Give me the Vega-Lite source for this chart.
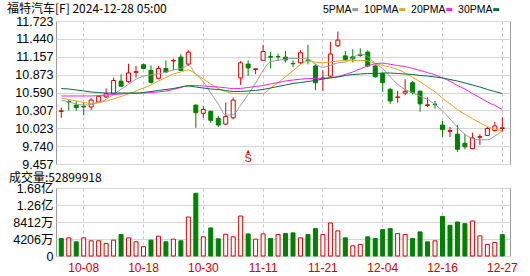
{
  "$schema": "https://vega.github.io/schema/vega-lite/v6.json",
  "background": "white",
  "padding": {"left": 5, "top": 2, "right": 0, "bottom": 0},
  "spacing": 0,
  "config": {
    "view": {"stroke": "#9a9a9a", "strokeWidth": 1},
    "title": {"fontWeight": "normal", "color": "#000"},
    "axis": {"labelFont": "Liberation Sans, Noto Sans CJK SC", "labelFontSize": 12, "labelColor": "#000", "domain": false, "ticks": false, "gridColor": "#d6d6d6", "gridWidth": 1, "title": null, "labelOverlap": false},
    "axisY": {"labelOverlap": false}
  },
  "datasets": {
    "k": [
      {"d":"10-03","o":10.29,"h":10.35,"l":10.19,"c":10.30,"v":43300000,"cd":"u","vd":"d","5PMA":10.47,"10PMA":10.503,"20PMA":10.535,"30PMA":10.653},
      {"d":"10-04","o":10.45,"h":10.47,"l":10.31,"c":10.44,"v":44900000,"cd":"d","vd":"u","5PMA":10.44,"10PMA":10.479,"20PMA":10.535,"30PMA":10.645},
      {"d":"10-07","o":10.39,"h":10.455,"l":10.30,"c":10.35,"v":35100000,"cd":"d","vd":"d","5PMA":10.41,"10PMA":10.455,"20PMA":10.535,"30PMA":10.630},
      {"d":"10-08","o":10.37,"h":10.43,"l":10.23,"c":10.36,"v":44900000,"cd":"d","vd":"u","5PMA":10.39,"10PMA":10.432,"20PMA":10.535,"30PMA":10.614},
      {"d":"10-09","o":10.36,"h":10.50,"l":10.31,"c":10.47,"v":37600000,"cd":"u","vd":"u","5PMA":10.40,"10PMA":10.416,"20PMA":10.535,"30PMA":10.598},
      {"d":"10-10","o":10.44,"h":10.54,"l":10.43,"c":10.53,"v":37600000,"cd":"u","vd":"u","5PMA":10.43,"10PMA":10.432,"20PMA":10.542,"30PMA":10.590},
      {"d":"10-11","o":10.52,"h":10.655,"l":10.50,"c":10.57,"v":31000000,"cd":"u","vd":"u","5PMA":10.48,"10PMA":10.455,"20PMA":10.550,"30PMA":10.582},
      {"d":"10-14","o":10.57,"h":10.825,"l":10.56,"c":10.78,"v":39200000,"cd":"u","vd":"u","5PMA":10.56,"10PMA":10.487,"20PMA":10.558,"30PMA":10.582},
      {"d":"10-15","o":10.77,"h":10.88,"l":10.68,"c":10.69,"v":53100000,"cd":"d","vd":"d","5PMA":10.64,"10PMA":10.527,"20PMA":10.566,"30PMA":10.582},
      {"d":"10-16","o":10.76,"h":11.045,"l":10.745,"c":10.90,"v":44900000,"cd":"u","vd":"u","5PMA":10.72,"10PMA":10.566,"20PMA":10.574,"30PMA":10.582},
      {"d":"10-17","o":10.91,"h":11.01,"l":10.825,"c":10.92,"v":35100000,"cd":"u","vd":"u","5PMA":10.80,"10PMA":10.614,"20PMA":10.574,"30PMA":10.582},
      {"d":"10-18","o":11.03,"h":11.05,"l":10.96,"c":10.97,"v":22900000,"cd":"d","vd":"u","5PMA":10.85,"10PMA":10.661,"20PMA":10.582,"30PMA":10.590},
      {"d":"10-21","o":10.94,"h":11.02,"l":10.73,"c":10.75,"v":39200000,"cd":"d","vd":"d","5PMA":10.87,"10PMA":10.709,"20PMA":10.590,"30PMA":10.606},
      {"d":"10-22","o":10.815,"h":11.01,"l":10.80,"c":10.97,"v":49000000,"cd":"u","vd":"u","5PMA":10.89,"10PMA":10.772,"20PMA":10.598,"30PMA":10.622},
      {"d":"10-23","o":10.97,"h":11.10,"l":10.905,"c":10.915,"v":35100000,"cd":"d","vd":"d","5PMA":10.91,"10PMA":10.828,"20PMA":10.614,"30PMA":10.638},
      {"d":"10-24","o":11.09,"h":11.125,"l":10.94,"c":11.10,"v":41700000,"cd":"u","vd":"u","5PMA":10.95,"10PMA":10.883,"20PMA":10.638,"30PMA":10.653},
      {"d":"10-25","o":11.15,"h":11.195,"l":10.93,"c":10.94,"v":37600000,"cd":"d","vd":"d","5PMA":10.97,"10PMA":10.915,"20PMA":10.669,"30PMA":10.677},
      {"d":"10-28","o":11.04,"h":11.26,"l":11.01,"c":11.23,"v":96400000,"cd":"u","vd":"u","5PMA":11.02,"10PMA":10.947,"20PMA":10.701,"30PMA":10.693},
      {"d":"10-29","o":10.39,"h":10.40,"l":10.03,"c":10.27,"v":155200000,"cd":"d","vd":"d","5PMA":10.88,"10PMA":10.883,"20PMA":10.701,"30PMA":10.677},
      {"d":"10-30","o":10.26,"h":10.375,"l":10.19,"c":10.32,"v":47400000,"cd":"u","vd":"u","5PMA":10.76,"10PMA":10.804,"20PMA":10.693,"30PMA":10.661},
      {"d":"10-31","o":10.29,"h":10.305,"l":10.11,"c":10.15,"v":69400000,"cd":"d","vd":"d","5PMA":10.58,"10PMA":10.725,"20PMA":10.685,"30PMA":10.645},
      {"d":"11-01","o":10.18,"h":10.22,"l":10.045,"c":10.075,"v":42500000,"cd":"d","vd":"d","5PMA":10.41,"10PMA":10.653,"20PMA":10.677,"30PMA":10.638},
      {"d":"11-04","o":10.09,"h":10.43,"l":10.075,"c":10.21,"v":53900000,"cd":"u","vd":"u","5PMA":10.23,"10PMA":10.606,"20PMA":10.665,"30PMA":10.622},
      {"d":"11-05","o":10.19,"h":10.51,"l":10.165,"c":10.47,"v":47400000,"cd":"u","vd":"u","5PMA":10.24,"10PMA":10.574,"20PMA":10.650,"30PMA":10.606},
      {"d":"11-06","o":10.82,"h":11.09,"l":10.71,"c":11.06,"v":98800000,"cd":"u","vd":"u","5PMA":10.39,"10PMA":10.570,"20PMA":10.655,"30PMA":10.606},
      {"d":"11-07","o":11.04,"h":11.10,"l":10.85,"c":10.98,"v":54700000,"cd":"d","vd":"d","5PMA":10.56,"10PMA":10.572,"20PMA":10.669,"30PMA":10.614},
      {"d":"11-08","o":10.955,"h":10.97,"l":10.88,"c":10.965,"v":41700000,"cd":"u","vd":"u","5PMA":10.74,"10PMA":10.575,"20PMA":10.685,"30PMA":10.622},
      {"d":"11-11","o":11.10,"h":11.345,"l":11.09,"c":11.24,"v":54700000,"cd":"u","vd":"u","5PMA":10.94,"10PMA":10.574,"20PMA":10.701,"30PMA":10.638},
      {"d":"11-12","o":11.16,"h":11.235,"l":10.975,"c":11.15,"v":43300000,"cd":"d","vd":"d","5PMA":11.08,"10PMA":10.661,"20PMA":10.725,"30PMA":10.661},
      {"d":"11-13","o":11.16,"h":11.205,"l":11.09,"c":11.155,"v":53100000,"cd":"d","vd":"u","5PMA":11.10,"10PMA":10.745,"20PMA":10.748,"30PMA":10.685},
      {"d":"11-14","o":11.15,"h":11.25,"l":11.065,"c":11.105,"v":55500000,"cd":"d","vd":"d","5PMA":11.12,"10PMA":10.840,"20PMA":10.772,"30PMA":10.709},
      {"d":"11-15","o":11.05,"h":11.10,"l":10.99,"c":11.045,"v":57200000,"cd":"d","vd":"d","5PMA":11.13,"10PMA":10.935,"20PMA":10.788,"30PMA":10.733},
      {"d":"11-18","o":11.06,"h":11.26,"l":11.045,"c":11.22,"v":44900000,"cd":"u","vd":"u","5PMA":11.13,"10PMA":11.03,"20PMA":10.800,"30PMA":10.748},
      {"d":"11-19","o":11.105,"h":11.345,"l":11.035,"c":11.10,"v":53100000,"cd":"d","vd":"d","5PMA":11.12,"10PMA":11.09,"20PMA":10.810,"30PMA":10.764},
      {"d":"11-20","o":11.01,"h":11.045,"l":10.625,"c":10.745,"v":67800000,"cd":"d","vd":"d","5PMA":11.04,"10PMA":11.07,"20PMA":10.815,"30PMA":10.780},
      {"d":"11-21","o":10.81,"h":10.94,"l":10.615,"c":10.82,"v":53100000,"cd":"u","vd":"u","5PMA":10.99,"10PMA":11.06,"20PMA":10.815,"30PMA":10.804},
      {"d":"11-22","o":10.85,"h":11.395,"l":10.825,"c":11.20,"v":81700000,"cd":"u","vd":"u","5PMA":11.02,"10PMA":11.075,"20PMA":10.828,"30PMA":10.820},
      {"d":"11-25","o":11.33,"h":11.555,"l":11.31,"c":11.42,"v":62100000,"cd":"u","vd":"u","5PMA":11.06,"10PMA":11.09,"20PMA":10.840,"30PMA":10.836},
      {"d":"11-26","o":11.17,"h":11.25,"l":11.09,"c":11.115,"v":44900000,"cd":"d","vd":"d","5PMA":11.07,"10PMA":11.095,"20PMA":10.878,"30PMA":10.859},
      {"d":"11-27","o":11.155,"h":11.275,"l":11.065,"c":11.125,"v":25300000,"cd":"d","vd":"u","5PMA":11.14,"10PMA":11.095,"20PMA":10.915,"30PMA":10.875},
      {"d":"11-29","o":11.185,"h":11.29,"l":11.155,"c":11.18,"v":28600000,"cd":"d","vd":"u","5PMA":11.20,"10PMA":11.10,"20PMA":10.965,"30PMA":10.883},
      {"d":"12-02","o":11.23,"h":11.26,"l":10.995,"c":11.01,"v":47400000,"cd":"d","vd":"d","5PMA":11.16,"10PMA":11.09,"20PMA":11.012,"30PMA":10.891},
      {"d":"12-03","o":11.01,"h":11.035,"l":10.825,"c":10.84,"v":43300000,"cd":"d","vd":"d","5PMA":11.05,"10PMA":11.05,"20PMA":11.045,"30PMA":10.891},
      {"d":"12-04","o":10.89,"h":10.905,"l":10.60,"c":10.745,"v":65300000,"cd":"d","vd":"d","5PMA":10.97,"10PMA":11.02,"20PMA":11.055,"30PMA":10.899},
      {"d":"12-05","o":10.64,"h":10.665,"l":10.405,"c":10.455,"v":67800000,"cd":"d","vd":"d","5PMA":10.84,"10PMA":10.99,"20PMA":11.037,"30PMA":10.899},
      {"d":"12-06","o":10.51,"h":10.615,"l":10.43,"c":10.52,"v":55500000,"cd":"u","vd":"u","5PMA":10.72,"10PMA":10.955,"20PMA":11.017,"30PMA":10.891},
      {"d":"12-09","o":10.58,"h":10.80,"l":10.55,"c":10.61,"v":53100000,"cd":"u","vd":"u","5PMA":10.64,"10PMA":10.90,"20PMA":11.000,"30PMA":10.883},
      {"d":"12-10","o":10.745,"h":10.77,"l":10.56,"c":10.59,"v":43300000,"cd":"d","vd":"d","5PMA":10.59,"10PMA":10.83,"20PMA":10.972,"30PMA":10.875},
      {"d":"12-11","o":10.61,"h":10.625,"l":10.285,"c":10.41,"v":59600000,"cd":"d","vd":"d","5PMA":10.53,"10PMA":10.76,"20PMA":10.940,"30PMA":10.859},
      {"d":"12-12","o":10.385,"h":10.51,"l":10.36,"c":10.395,"v":35100000,"cd":"u","vd":"d","5PMA":10.48,"10PMA":10.68,"20PMA":10.905,"30PMA":10.851},
      {"d":"12-13","o":10.405,"h":10.455,"l":10.335,"c":10.40,"v":37600000,"cd":"d","vd":"u","5PMA":10.40,"10PMA":10.60,"20PMA":10.870,"30PMA":10.836},
      {"d":"12-16","o":10.075,"h":10.14,"l":9.885,"c":10.00,"v":98000000,"cd":"d","vd":"d","5PMA":10.30,"10PMA":10.50,"20PMA":10.820,"30PMA":10.820},
      {"d":"12-17","o":9.975,"h":10.045,"l":9.885,"c":9.985,"v":76000000,"cd":"u","vd":"d","5PMA":10.17,"10PMA":10.41,"20PMA":10.770,"30PMA":10.796},
      {"d":"12-18","o":9.93,"h":10.075,"l":9.65,"c":9.69,"v":84100000,"cd":"d","vd":"d","5PMA":10.04,"10PMA":10.32,"20PMA":10.700,"30PMA":10.772},
      {"d":"12-19","o":9.785,"h":9.93,"l":9.69,"c":9.73,"v":80000000,"cd":"d","vd":"d","5PMA":9.93,"10PMA":10.245,"20PMA":10.645,"30PMA":10.741},
      {"d":"12-20","o":9.70,"h":9.955,"l":9.69,"c":9.87,"v":86600000,"cd":"u","vd":"u","5PMA":9.86,"10PMA":10.175,"20PMA":10.573,"30PMA":10.709},
      {"d":"12-23","o":9.88,"h":9.93,"l":9.76,"c":9.89,"v":49800000,"cd":"u","vd":"u","5PMA":9.84,"10PMA":10.11,"20PMA":10.510,"30PMA":10.677},
      {"d":"12-24","o":9.91,"h":10.045,"l":9.90,"c":10.02,"v":28600000,"cd":"u","vd":"u","5PMA":9.84,"10PMA":10.05,"20PMA":10.440,"30PMA":10.638},
      {"d":"12-26","o":9.99,"h":10.125,"l":9.97,"c":10.06,"v":33500000,"cd":"u","vd":"u","5PMA":9.90,"10PMA":10.01,"20PMA":10.385,"30PMA":10.606},
      {"d":"12-27","o":10.02,"h":10.20,"l":9.97,"c":10.03,"v":52899918,"cd":"u","vd":"d","5PMA":9.98,"10PMA":9.98,"20PMA":10.321,"30PMA":10.574}
    ]
  },
  "vconcat": [
    {
      "width": 454,
      "height": 143,
      "title": {"text": "福特汽车[F] 2024-12-28 05:00", "anchor": "start", "font": "Noto Sans CJK SC", "fontSize": 12, "offset": -1, "dx": 1},
      "data": {"name": "k"},
      "layer": [
        {
          "mark": {"type": "rule", "strokeWidth": 1},
          "encoding": {
            "x": {"field": "d", "type": "ordinal", "scale": {"type": "band", "paddingInner": 0, "paddingOuter": 0.368, "align": 0.28}, "axis": {"values": ["10-08","10-18","10-30","11-11","11-21","12-04","12-16","12-27"], "labels": false, "grid": true, "gridDash": [3, 3], "gridColor": "#c4c4c4", "minExtent": 0, "maxExtent": 0}},
            "y": {"field": "l", "type": "quantitative", "scale": {"domain": [9.457, 11.723], "nice": false, "zero": false}, "axis": {"values": [9.457, 9.74, 10.023, 10.307, 10.59, 10.873, 11.157, 11.44, 11.723], "tickCount": 12, "format": ".3f", "labelFontSize": 12.5, "labelPadding": 3, "labelOverlap": false, "labelBound": false, "minExtent": 50, "maxExtent": 50, "grid": true}},
            "y2": {"field": "h"},
            "stroke": {"field": "cd", "type": "nominal", "scale": {"domain": ["u", "d"], "range": ["#d40000", "#008000"]}, "legend": null}
          }
        },
        {
          "mark": {"type": "bar", "width": 4, "strokeWidth": 1},
          "encoding": {
            "x": {"field": "d", "type": "ordinal"},
            "y": {"field": "o", "type": "quantitative"},
            "y2": {"field": "c"},
            "fill": {"field": "cd", "type": "nominal", "scale": {"domain": ["u", "d"], "range": ["#ffffff", "#008000"]}, "legend": null},
            "stroke": {"field": "cd", "type": "nominal", "legend": null}
          }
        },
        {
          "transform": [{"fold": ["5PMA", "10PMA", "20PMA", "30PMA"], "as": ["ma", "val"]}],
          "mark": {"type": "line", "strokeWidth": 1, "interpolate": "monotone"},
          "encoding": {
            "x": {"field": "d", "type": "ordinal"},
            "y": {"field": "val", "type": "quantitative"},
            "color": {"field": "ma", "type": "nominal", "scale": {"domain": ["5PMA", "10PMA", "20PMA", "30PMA"], "range": ["#9c9c9c", "#e8a21c", "#ee22ee", "#0b6b3a"]},
              "legend": {"orient": "none", "legendX": 294, "legendY": -17, "direction": "horizontal", "title": null, "padding": 0, "symbolType": "stroke", "symbolStrokeWidth": 3, "symbolSize": 36, "labelFont": "Liberation Sans", "labelFontSize": 10.5, "labelColor": "#000", "columnPadding": -1, "labelAlign": "right", "labelOffset": -9}}
          }
        },
        {
          "data": {"values": [{"d": "11-07", "ev": "S"}]},
          "mark": {"type": "text", "color": "#d40000", "font": "Liberation Sans", "fontSize": 11},
          "encoding": {"x": {"field": "d", "type": "ordinal"}, "y": {"datum": 9.53}, "text": {"field": "ev"}}
        },
        {
          "data": {"values": [{"d": "11-07", "ev": "▲"}]},
          "mark": {"type": "text", "color": "#d40000", "font": "DejaVu Sans", "fontSize": 5},
          "encoding": {"x": {"field": "d", "type": "ordinal"}, "y": {"datum": 9.67}, "text": {"field": "ev"}}
        }
      ]
    },
    {
      "width": 454,
      "height": 68,
      "title": {"text": "成交量:52899918", "anchor": "start", "font": "Noto Sans CJK SC", "fontSize": 12, "offset": -3, "dx": 3},
      "data": {"name": "k"},
      "mark": {"type": "bar", "width": 4, "strokeWidth": 1},
      "encoding": {
        "x": {"field": "d", "type": "ordinal", "scale": {"type": "band", "paddingInner": 0, "paddingOuter": 0.368, "align": 0.28}, "axis": {"values": ["10-08","10-18","10-30","11-11","11-21","12-04","12-16","12-27"], "labelAngle": 0, "labelColor": "#cc0000", "labelFont": "Liberation Sans", "labelFontSize": 12, "labelPadding": 6, "grid": true, "gridDash": [3, 3], "gridColor": "#c4c4c4"}},
        "y": {"field": "v", "type": "quantitative", "scale": {"domain": [0, 168240000], "nice": false}, "axis": {"values": [0, 42060000, 84120000, 126180000, 168240000], "tickCount": 8, "labelExpr": "datum.value == 0 ? '0' : datum.value >= 100000000 ? format(datum.value / 100000000, '.2f') + '亿' : format(datum.value / 10000, '.0f') + '万'", "labelFontSize": 12.5, "labelPadding": 3, "labelOverlap": false, "minExtent": 50, "maxExtent": 50, "grid": true}},
        "fill": {"field": "vd", "type": "nominal", "scale": {"domain": ["u", "d"], "range": ["#ffffff", "#008000"]}, "legend": null},
        "stroke": {"field": "vd", "type": "nominal", "scale": {"domain": ["u", "d"], "range": ["#d40000", "#008000"]}, "legend": null}
      }
    }
  ]
}
